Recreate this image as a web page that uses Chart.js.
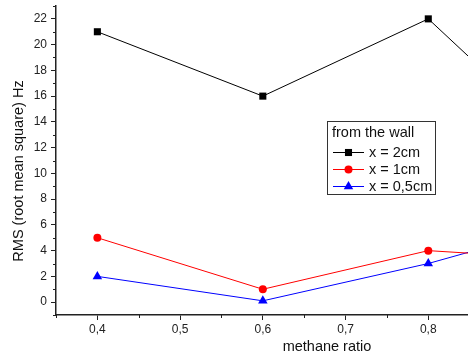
<!DOCTYPE html>
<html><head><meta charset="utf-8">
<script src="https://cdn.jsdelivr.net/npm/chart.js@4/dist/chart.umd.min.js"></script>
<style>html,body{margin:0;padding:0;background:#fff}#wrap{width:468px;height:356px;position:relative}</style>
</head><body><div id="wrap"><canvas id="c" width="468" height="356"></canvas></div>
<script>
// ---- data ----
const methaneRatio = [0.4, 0.6, 0.8, 0.9];
const rms2cm  = [21, 16, 22, 16];
const rms1cm  = [5, 1, 4, 3.6];
const rms05cm = [2, 0.1, 3, 4.8];
const seriesLabels = ['x = 2cm', 'x = 1cm', 'x = 0,5cm'];
const legendTitle = 'from the wall';
const xTickValues = [0.4, 0.5, 0.6, 0.7, 0.8];
const xMinorValues = [0.35, 0.45, 0.55, 0.65, 0.75];
const yTickValues = [0, 2, 4, 6, 8, 10, 12, 14, 16, 18, 20, 22];
const yMinorValues = [-1, 1, 3, 5, 7, 9, 11, 13, 15, 17, 19, 21, 23];
const xTitle = 'methane ratio';
const yTitle = 'RMS (root mean square) Hz';

const FONT = '"Liberation Sans", Arial, sans-serif';
const AXIS = '#222';
const colors = ['#000000', '#ff0000', '#0000ff'];
const styles = ['rect', 'circle', 'triangle'];
const radii = [5, 4, 5.5];

const toPts = arr => arr.map((v, i) => ({x: methaneRatio[i], y: v}));
const seriesData = [rms2cm, rms1cm, rms05cm];

function drawMarker(ctx, style, x, y, r, color) {
  ctx.save();
  ctx.fillStyle = color; ctx.strokeStyle = color; ctx.lineWidth = 1;
  ctx.beginPath();
  if (style === 'rect') {
    const s = Math.SQRT1_2 * r;
    ctx.rect(x - s, y - s, 2 * s, 2 * s);
  } else if (style === 'circle') {
    ctx.arc(x, y, r, 0, Math.PI * 2);
  } else {
    const w = r * Math.sqrt(3);
    ctx.moveTo(x, y - r);
    ctx.lineTo(x + w / 2, y + r / 2);
    ctx.lineTo(x - w / 2, y + r / 2);
    ctx.closePath();
  }
  ctx.fill();
  ctx.restore();
}

const extras = {
  id: 'extras',
  afterDraw(chart) {
    const ctx = chart.ctx;
    const xs = chart.scales.x, ys = chart.scales.y;
    const a = chart.chartArea;
    ctx.save();
    ctx.strokeStyle = AXIS; ctx.lineWidth = 1;
    // minor ticks
    ctx.beginPath();
    xMinorValues.forEach(v => {
      const px = Math.round(xs.getPixelForValue(v)) + 0.5;
      ctx.moveTo(px, a.bottom); ctx.lineTo(px, a.bottom + 3);
    });
    yMinorValues.forEach(v => {
      const py = Math.round(ys.getPixelForValue(v)) + 0.5;
      ctx.moveTo(a.left, py); ctx.lineTo(a.left - 3, py);
    });
    ctx.stroke();
    // axis titles
    ctx.fillStyle = '#111';
    ctx.font = '14.5px ' + FONT;
    ctx.textAlign = 'center'; ctx.textBaseline = 'middle';
    ctx.fillText(xTitle, 327, 347);
    ctx.save();
    ctx.translate(19, 171);
    ctx.rotate(-Math.PI / 2);
    ctx.fillText(yTitle, 0, 0);
    ctx.restore();
    // legend
    const lx = 327, ly = 121, lw = 108, lh = 73;
    ctx.fillStyle = '#fff';
    ctx.fillRect(lx, ly, lw, lh);
    ctx.strokeStyle = '#333'; ctx.lineWidth = 1;
    ctx.strokeRect(lx + 0.5, ly + 0.5, lw, lh);
    ctx.fillStyle = '#111';
    ctx.font = '14.5px ' + FONT;
    ctx.textAlign = 'left'; ctx.textBaseline = 'middle';
    ctx.fillText(legendTitle, 332, 133);
    const rows = [152, 169, 186];
    seriesLabels.forEach((lab, i) => {
      const y = rows[i];
      ctx.strokeStyle = colors[i]; ctx.lineWidth = 1;
      ctx.beginPath(); ctx.moveTo(333, y + 0.5); ctx.lineTo(364, y + 0.5); ctx.stroke();
      drawMarker(ctx, styles[i], 348.5, y + 0.5, radii[i], colors[i]);
      ctx.fillStyle = '#111';
      ctx.fillText(lab, 369, y + 1);
    });
    ctx.restore();
  }
};

new Chart(document.getElementById('c'), {
  type: 'line',
  data: {
    datasets: seriesData.map((arr, i) => ({
      label: seriesLabels[i],
      data: toPts(arr),
      borderColor: colors[i],
      backgroundColor: colors[i],
      borderWidth: 1,
      pointStyle: styles[i],
      pointRadius: radii[i],
      pointBorderWidth: 0,
      tension: 0
    }))
  },
  options: {
    responsive: false,
    animation: false,
    devicePixelRatio: 1,
    layout: {autoPadding: false, padding: {top: 6, right: 0, bottom: 0, left: 0}},
    plugins: {legend: {display: false}, tooltip: {enabled: false}},
    scales: {
      x: {
        type: 'linear', min: 0.35, max: 0.848,
        afterBuildTicks: s => { s.ticks = xTickValues.map(v => ({value: v})); },
        afterFit: s => { s.height = 41; s.paddingLeft = 0; s.paddingRight = 0; },
        grid: {drawOnChartArea: false, drawTicks: true, tickLength: 5, tickColor: AXIS, tickWidth: 1},
        border: {display: true, color: AXIS, width: 1.5},
        ticks: {
          padding: 2, color: '#222', font: {family: FONT, size: 12},
          maxRotation: 0, autoSkip: false,
          callback: v => Number(v).toFixed(1).replace('.', ',')
        }
      },
      y: {
        type: 'linear', min: -1, max: 23,
        afterBuildTicks: s => { s.ticks = yTickValues.map(v => ({value: v})); },
        afterFit: s => { s.width = 56; s.paddingTop = 0; s.paddingBottom = 0; },
        grid: {drawOnChartArea: false, drawTicks: true, tickLength: 5, tickColor: AXIS, tickWidth: 1},
        border: {display: true, color: AXIS, width: 1.5},
        ticks: {
          padding: 4, color: '#222', font: {family: FONT, size: 12},
          autoSkip: false,
          callback: v => String(v)
        }
      }
    }
  },
  plugins: [extras]
});
</script>
</body></html>
